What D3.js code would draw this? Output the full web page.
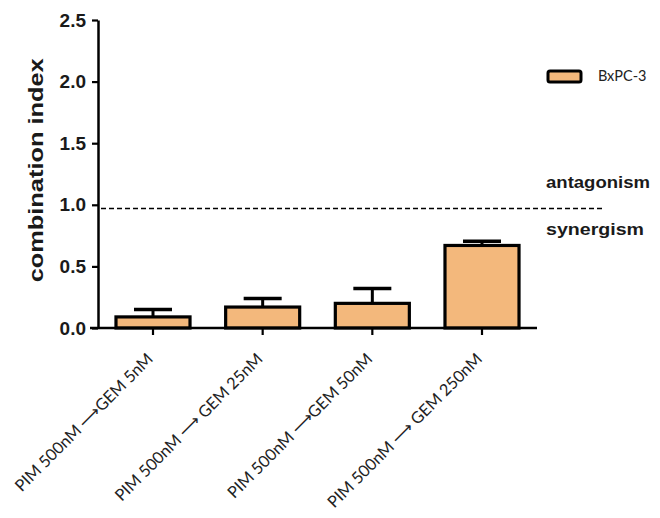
<!DOCTYPE html>
<html>
<head>
<meta charset="utf-8">
<script src="https://cdn.jsdelivr.net/npm/d3@7"></script>
<style>
  html, body { margin: 0; padding: 0; background: #fff; }
  svg { display: block; }
</style>
</head>
<body>
<div id="chart"></div>
<script>
// Combination index of sequential PIM → GEM treatment in BxPC-3 cells
const categories = [
  "PIM 500nM \u27F6GEM 5nM",
  "PIM 500nM \u27F6 GEM 25nM",
  "PIM 500nM \u27F6GEM 50nM",
  "PIM 500nM \u27F6 GEM 250nM"
];
const ciMean = [0.09, 0.17, 0.20, 0.67];
const ciError = [0.06, 0.07, 0.12, 0.035];
const yTicks = [0.0, 0.5, 1.0, 1.5, 2.0, 2.5];
const thresholdValue = 0.97;
const seriesName = "BxPC-3";

const W = 660, H = 518;
const margin = { left: 98 };
const svg = d3.select("#chart").append("svg").attr("width", W).attr("height", H);

const x = d3.scaleBand()
  .domain(categories)
  .range([margin.left, 537])
  .paddingInner(0.325)
  .paddingOuter(0.164);

const y = d3.scaleLinear().domain([0, 2.5]).range([328, 20]);

const fill = "#F3B87C";

// bars
svg.append("g").selectAll("rect")
  .data(categories)
  .join("rect")
  .attr("x", d => x(d))
  .attr("width", x.bandwidth())
  .attr("y", (d, i) => y(ciMean[i]))
  .attr("height", (d, i) => y(0) - y(ciMean[i]))
  .attr("fill", fill)
  .attr("stroke", "#000")
  .attr("stroke-width", 3.2);

// error bars (upper only)
const eb = svg.append("g").attr("stroke", "#000").attr("stroke-width", 3);
categories.forEach((c, i) => {
  const cx = x(c) + x.bandwidth() / 2;
  const top = y(ciMean[i] + ciError[i]);
  eb.append("line").attr("x1", cx).attr("x2", cx)
    .attr("y1", y(ciMean[i])).attr("y2", top);
  eb.append("line").attr("x1", cx - 19).attr("x2", cx + 19)
    .attr("y1", top).attr("y2", top).attr("stroke-width", 3.5);
});

// y axis
const yAxis = svg.append("g")
  .attr("transform", `translate(${margin.left},0)`)
  .call(d3.axisLeft(y).tickValues(yTicks).tickFormat(d3.format(".1f")).tickSize(6).tickSizeOuter(0));
yAxis.select(".domain").attr("stroke-width", 2.5);
yAxis.selectAll(".tick line").attr("stroke-width", 2.2);
yAxis.selectAll(".tick text")
  .attr("font-family", "Liberation Sans, Arial, sans-serif")
  .attr("font-weight", "bold")
  .attr("font-size", 19)
  .attr("fill", "#1a1a1a")
  .attr("x", -12);

// x axis
const xAxis = svg.append("g")
  .attr("transform", `translate(0,${y(0)})`)
  .call(d3.axisBottom(x).tickSize(7).tickSizeOuter(0));
xAxis.select(".domain").attr("stroke-width", 2.5).attr("d", `M${margin.left - 8},0H537`);
xAxis.selectAll(".tick line").attr("stroke-width", 2.2);
xAxis.selectAll(".tick text")
  .attr("font-family", "Lato, 'Open Sans', sans-serif")
  .attr("font-size", 16.3)
  .attr("fill", "#222")
  .attr("text-anchor", "end")
  .attr("dy", 0)
  .attr("transform", "translate(-6,25) rotate(-45)");

// y axis title
svg.append("text")
  .attr("transform", `translate(43,${y(1.28)}) rotate(-90)`)
  .attr("text-anchor", "middle")
  .attr("font-family", "Liberation Sans, Arial, sans-serif")
  .attr("font-weight", "bold")
  .attr("font-size", 20)
  .attr("textLength", 224)
  .attr("lengthAdjust", "spacingAndGlyphs")
  .attr("fill", "#1a1a1a")
  .text("combination index");

// threshold line
svg.append("line")
  .attr("x1", 101).attr("x2", 604)
  .attr("y1", y(thresholdValue)).attr("y2", y(thresholdValue))
  .attr("stroke", "#000").attr("stroke-width", 1.6)
  .attr("stroke-dasharray", "5,3");

const labelFont = "Liberation Sans, Arial, sans-serif";
svg.append("text").attr("x", 546).attr("y", 188)
  .attr("font-family", labelFont).attr("font-weight", "bold").attr("font-size", 17)
  .attr("textLength", 104).attr("lengthAdjust", "spacingAndGlyphs")
  .attr("fill", "#1a1a1a").text("antagonism");
svg.append("text").attr("x", 546).attr("y", 235)
  .attr("font-family", labelFont).attr("font-weight", "bold").attr("font-size", 17)
  .attr("textLength", 98).attr("lengthAdjust", "spacingAndGlyphs")
  .attr("fill", "#1a1a1a").text("synergism");

// legend
const lg = svg.append("g").attr("transform", "translate(548,71)");
lg.append("rect").attr("width", 33).attr("height", 11).attr("rx", 2)
  .attr("fill", fill).attr("stroke", "#000").attr("stroke-width", 3);
lg.append("text").attr("x", 50).attr("y", 10)
  .attr("font-family", "Lato, 'Open Sans', sans-serif").attr("font-size", 14.5)
  .attr("fill", "#222").text(seriesName);
</script>
</body>
</html>
